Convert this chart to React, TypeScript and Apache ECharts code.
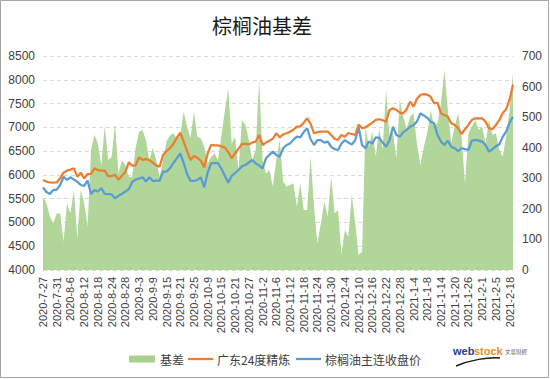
import React, { useEffect, useRef } from "react";
import * as echarts from "echarts";

const monthDays: [string, number[]][] = [
  ["2020-7", [27, 28, 29, 30, 31]],
  ["2020-8", [3, 4, 5, 6, 7, 10, 11, 12, 13, 14, 17, 18, 19, 20, 21, 24, 25, 26, 27, 28, 31]],
  ["2020-9", [1, 2, 3, 4, 7, 8, 9, 10, 11, 14, 15, 16, 17, 18, 21, 22, 23, 24, 25, 28, 29, 30]],
  ["2020-10", [9, 12, 13, 14, 15, 16, 19, 20, 21, 22, 23, 26, 27, 28, 29, 30]],
  ["2020-11", [2, 3, 4, 5, 6, 9, 10, 11, 12, 13, 16, 17, 18, 19, 20, 23, 24, 25, 26, 27, 30]],
  ["2020-12", [1, 2, 3, 4, 7, 8, 9, 10, 11, 14, 15, 16, 17, 18, 21, 22, 23, 24, 25, 28, 29, 30, 31]],
  ["2021-1", [4, 5, 6, 7, 8, 11, 12, 13, 14, 15, 18, 19, 20, 21, 22, 25, 26, 27, 28, 29]],
  ["2021-2", [1, 2, 3, 4, 5, 8, 9, 10, 18, 19]],
];
const dates: string[] = monthDays.flatMap(([m, ds]) => ds.map((d) => `${m}-${d}`));

// 广东24度精炼 (left axis)
const spotPrice = [
  5893, 5860, 5840, 5835, 5840, 5928, 6046, 6090, 6110, 6138,
  5962, 6046, 5928, 6018, 6020, 6138, 6100, 6088, 6090, 5976,
  5976, 6000, 5900, 5980, 6060, 6265, 6194, 6200, 6370, 6314,
  6330, 6310, 6260, 6200, 6173, 6418, 6500, 6560, 6650, 6780,
  6888, 6700, 6500, 6313, 6397, 6360, 6300, 6158, 6450, 6629,
  6620, 6620, 6600, 6580, 6480, 6349, 6454, 6550, 6650, 6650,
  6640, 6680, 6700, 6839, 6629, 6680, 6720, 6760, 6875, 6790,
  6850, 6875, 6909, 6950, 7014, 7020, 7098, 7190, 7080, 6875,
  6900, 6909, 6909, 6909, 6840, 6760, 6734, 6840, 6800, 6880,
  6860, 6840, 7060, 6980, 7000, 7049, 7100, 7155, 7170, 7150,
  7119, 7365, 7400, 7365, 7310, 7295, 7380, 7540, 7434, 7600,
  7680, 7700, 7690, 7640, 7505, 7520, 7295, 7260, 7224, 7085,
  7049, 6980, 6860, 6960, 7050, 7155, 7190, 7190, 7190, 7119,
  6980, 6960, 7049, 7150, 7300, 7380, 7580, 7900,
];

// 棕榈油主连收盘价 (left axis)
const futuresClose = [
  5739, 5640, 5598, 5682, 5690, 5788, 5962, 5893, 5950, 5900,
  5857, 5788, 5770, 5880, 5600, 5682, 5650, 5720, 5600, 5595,
  5590, 5508, 5560, 5600, 5650, 5700, 5850, 5900, 5920, 5949,
  5860, 5950, 5870, 5880, 5880, 6067, 6067, 6139, 6250, 6349,
  6454, 6250, 6020, 5872, 5872, 5893, 5950, 5739, 6050, 6243,
  6250, 6250, 6130, 5980, 5836, 5980, 6040, 6103, 6180, 6208,
  6260, 6313, 6240, 6200, 6138, 6349, 6420, 6488, 6420, 6383,
  6560, 6629, 6660, 6740, 6804, 6790, 6900, 6980, 6750, 6629,
  6730, 6730, 6680, 6700, 6590, 6540, 6523, 6660, 6730, 6680,
  6640, 6730, 7000, 6629, 6559, 6700, 6660, 6790, 6780, 6680,
  6593, 6730, 7014, 6839, 6800, 6900, 6945, 7014, 7050, 7119,
  7295, 7250, 7200, 7119, 7085, 6839, 6700, 6629, 6720, 6593,
  6560, 6500, 6560, 6540, 6523, 6720, 6734, 6720, 6700, 6629,
  6488, 6540, 6600, 6640, 6800, 6909, 7100, 7220,
];

// 基差 (right axis)
const basis = [
  240, 218, 175, 153, 185, 185, 93, 218, 185, 262,
  104, 262, 218, 142, 393, 442, 414, 343, 471, 360,
  370, 478, 316, 360, 343, 305, 305, 400, 452, 458,
  425, 360, 398, 360, 305, 360, 420, 440, 447, 430,
  440, 518, 469, 431, 518, 436, 430, 403, 349, 370,
  382, 360, 440, 520, 594, 414, 436, 327, 491, 474,
  425, 360, 393, 624, 360, 316, 327, 273, 360, 425,
  289, 273, 278, 284, 207, 284, 196, 196, 371, 207,
  87, 153, 223, 175, 305, 185, 196, 54, 131, 109,
  245, 153, 49, 60, 469, 403, 452, 371, 463, 393,
  589, 436, 452, 365, 556, 501, 463, 501, 513, 414,
  343, 403, 447, 523, 469, 480, 545, 654, 523, 414,
  469, 513, 436, 284, 447, 469, 491, 458, 469, 414,
  491, 442, 447, 393, 371, 436, 520, 645,
];

const leftTicks = { min: 4000, max: 8500, interval: 500 };
const rightTicks = { min: 0, max: 700, interval: 100 };

const seriesNames = ["基差", "广东24度精炼", "棕榈油主连收盘价"];
const colors = ["#a9d18e", "#ed7d31", "#5b9bd5"];

export default function App() {
  const ref = useRef<HTMLDivElement>(null);
  useEffect(() => {
    if (!ref.current) return;
    const chart = echarts.init(ref.current, undefined, { renderer: "svg" });
    const labelColor = "#404040";
    const legendFont = '12px "Noto Sans CJK SC"';
    const ly = 359;
    chart.setOption({
      animation: false,
      backgroundColor: "#ffffff",
      grid: { left: 43, right: 37, top: 56, bottom: 109, containLabel: false },
      graphic: [
        {
          type: "rect",
          shape: { x: 0.5, y: 0.5, width: 548, height: 377 },
          style: { fill: "none", stroke: "#a6a6a6", lineWidth: 1 },
          silent: true,
        },
        {
          type: "text",
          x: 262,
          y: 25,
          style: {
            text: "棕榈油基差",
            fill: "#1a1a1a",
            font: '20px "Noto Sans CJK SC"',
            align: "center",
            verticalAlign: "middle",
          },
        },
        // legend
        {
          type: "rect",
          shape: { x: 129, y: ly - 3.5, width: 26, height: 7 },
          style: { fill: colors[0] },
        },
        {
          type: "text",
          x: 160,
          y: ly,
          style: { text: seriesNames[0], fill: labelColor, font: legendFont, align: "left", verticalAlign: "middle" },
        },
        {
          type: "line",
          shape: { x1: 188, y1: ly, x2: 213, y2: ly },
          style: { stroke: colors[1], lineWidth: 2.25 },
        },
        {
          type: "text",
          x: 217,
          y: ly,
          style: { text: seriesNames[1], fill: labelColor, font: legendFont, align: "left", verticalAlign: "middle" },
        },
        {
          type: "line",
          shape: { x1: 296, y1: ly, x2: 321, y2: ly },
          style: { stroke: colors[2], lineWidth: 2.25 },
        },
        {
          type: "text",
          x: 325,
          y: ly,
          style: { text: seriesNames[2], fill: labelColor, font: legendFont, align: "left", verticalAlign: "middle" },
        },
        // logo
        {
          type: "text",
          x: 453,
          y: 351,
          style: {
            text: "web",
            fill: "#1f3c8c",
            font: 'bold 11px "Liberation Sans"',
            align: "left",
            verticalAlign: "middle",
          },
        },
        {
          type: "text",
          x: 474,
          y: 351,
          style: {
            text: "stock",
            fill: "#e8901e",
            font: 'bold 11px "Liberation Sans"',
            align: "left",
            verticalAlign: "middle",
          },
        },
        {
          type: "text",
          x: 505,
          y: 352,
          style: {
            text: "文華財經",
            fill: "#666666",
            font: '5.5px "Noto Sans CJK TC"',
            align: "left",
            verticalAlign: "middle",
          },
        },
        {
          type: "bezierCurve",
          shape: { x1: 456, y1: 366, x2: 500, y2: 358, cpx1: 470, cpy1: 360, cpx2: 488, cpy2: 357 },
          style: { stroke: "#1a1a1a", lineWidth: 1.5, fill: "none" },
        },
      ],
      xAxis: {
        type: "category",
        data: dates,
        boundaryGap: false,
        axisLine: { show: false },
        axisTick: { show: false },
        axisLabel: {
          interval: 3,
          rotate: 90,
          fontSize: 11,
          color: labelColor,
          fontFamily: '"Liberation Sans"',
          margin: 7,
        },
        splitLine: { show: false },
      },
      yAxis: [
        {
          type: "value",
          ...leftTicks,
          axisLine: { show: false },
          axisTick: { show: false },
          axisLabel: {
            fontSize: 12,
            color: labelColor,
            fontFamily: '"Liberation Sans"',
            margin: 8,
            formatter: (v: number) => String(v),
          },
          splitLine: { show: true, lineStyle: { color: "#d9d9d9", type: [4, 3], width: 1 } },
        },
        {
          type: "value",
          ...rightTicks,
          axisLine: { show: false },
          axisTick: { show: false },
          axisLabel: {
            fontSize: 12,
            color: labelColor,
            fontFamily: '"Liberation Sans"',
            margin: 9,
            formatter: (v: number) => String(v),
          },
          splitLine: { show: false },
        },
      ],
      series: [
        {
          name: seriesNames[0],
          type: "line",
          yAxisIndex: 1,
          data: basis,
          symbol: "none",
          lineStyle: { width: 0, color: colors[0] },
          itemStyle: { color: colors[0] },
          areaStyle: { color: colors[0], opacity: 0.9 },
          z: 1,
        },
        {
          name: seriesNames[1],
          type: "line",
          yAxisIndex: 0,
          data: spotPrice,
          symbol: "none",
          lineStyle: { width: 2.25, color: colors[1] },
          itemStyle: { color: colors[1] },
          z: 3,
        },
        {
          name: seriesNames[2],
          type: "line",
          yAxisIndex: 0,
          data: futuresClose,
          symbol: "none",
          lineStyle: { width: 2.25, color: colors[2] },
          itemStyle: { color: colors[2] },
          z: 2,
        },
      ],
    });
    return () => chart.dispose();
  }, []);
  return (
    <div
      ref={ref}
      style={{ position: "absolute", left: 0, top: 0, width: 550, height: 379 }}
    />
  );
}
